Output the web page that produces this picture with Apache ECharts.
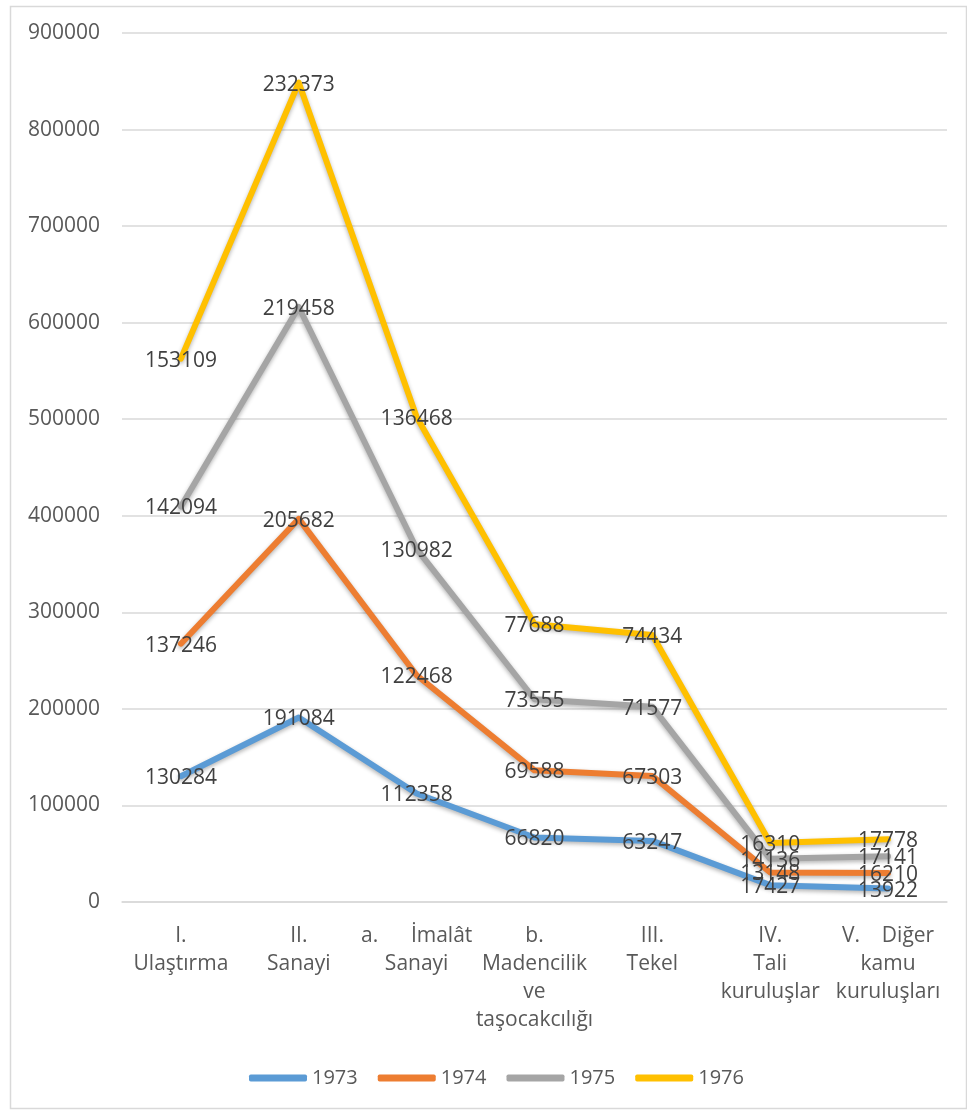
<!DOCTYPE html>
<html><head><meta charset="utf-8">
<style>html,body{margin:0;padding:0;background:#fff}#c{width:967px;height:1111px}</style>
<script src="https://cdn.jsdelivr.net/npm/echarts@6/dist/echarts.min.js"></script>
</head><body><div id="c"></div>
<script>
const categories = ["I.\nUlaştırma","II.\nSanayi","a.      İmalât\nSanayi","b.\nMadencilik\nve\ntaşocakcılığı","III.\nTekel","IV.\nTali\nkuruluşlar","V.    Diğer\nkamu\nkuruluşları"];
const years = ["1973","1974","1975","1976"];
const v1973 = [130284,191084,112358,66820,63247,17427,13922];
const v1974 = [137246,205682,122468,69588,67303,13148,16210];
const v1975 = [142094,219458,130982,73555,71577,14136,17141];
const v1976 = [153109,232373,136468,77688,74434,16310,17778];
const colors = ["#5B9BD5","#ED7D31","#A5A5A5","#FFC000"];
const values = [v1973,v1974,v1975,v1976];
const FONT = "Open Sans";
const chart = echarts.init(document.getElementById('c'));
chart.setOption({
  animation:false,
  color:colors,
  textStyle:{fontFamily:FONT},
  graphic:[{type:'rect',left:8,top:4,shape:{width:956,height:1102},style:{fill:'none',stroke:'#d9d9d9',lineWidth:1.5},silent:true}],
  grid:{left:122,right:20,top:33,bottom:209},
  legend:{bottom:18,left:244,itemWidth:58,itemHeight:7,itemGap:20,icon:'roundRect',
    textStyle:{fontFamily:FONT,fontSize:20,color:'#595959',padding:[0,0,0,0]},data:years},
  xAxis:{type:'category',data:categories,boundaryGap:true,
    axisLine:{lineStyle:{color:'#d9d9d9',width:1.5}},axisTick:{show:false},
    axisLabel:{fontFamily:FONT,fontSize:21,color:'#595959',lineHeight:28,margin:20,interval:0}},
  yAxis:{type:'value',min:0,max:900000,interval:100000,
    axisLine:{show:false},axisTick:{show:false},
    splitLine:{lineStyle:{color:'#d9d9d9',width:1.5}},
    axisLabel:{fontFamily:FONT,fontSize:21,color:'#595959',margin:22,formatter:v=>String(v)}},
  series: years.map((y,i)=>({
    name:y,type:'line',stack:'total',data:values[i],
    symbol:'circle',symbolSize:0,showSymbol:true,
    lineStyle:{width:6,color:colors[i],cap:'round',join:'round',shadowColor:'rgba(0,0,0,0.3)',shadowBlur:4,shadowOffsetY:2},
    itemStyle:{color:colors[i]},
    label:{show:true,position:'inside',offset:[0,2],fontFamily:FONT,fontSize:21,color:'#404040'},
    z:2+i
  }))
});
</script></body></html>
